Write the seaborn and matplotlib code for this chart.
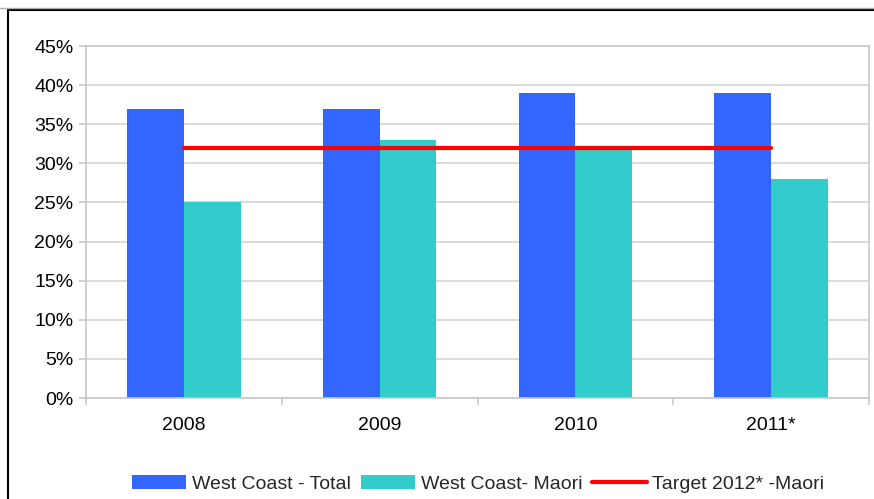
import pandas as pd
import numpy as np
import matplotlib
matplotlib.use("Agg")
import matplotlib.pyplot as plt
import seaborn as sns
from matplotlib.patches import Patch
from matplotlib.lines import Line2D
from matplotlib.ticker import FixedLocator

# data (percent)
years = ["2008", "2009", "2010", "2011*"]
total = [37, 37, 39, 39]
maori = [25, 33, 32, 28]
target = [32, 32, 32, 32]
series_names = ["West Coast - Total", "West Coast- Maori", "Target 2012* -Maori"]
y_ticks = [0, 5, 10, 15, 20, 25, 30, 35, 40, 45]

sns.set_theme(style="white")
plt.rcParams["font.family"] = ["Liberation Sans", "DejaVu Sans"]

df = pd.DataFrame({
    "Year": years * 2,
    "Value": total + maori,
    "Series": [series_names[0]] * len(years) + [series_names[1]] * len(years),
})

fig = plt.figure(figsize=(8.74, 4.99), dpi=100)
ax = fig.add_axes([0.0984, 0.2024, 0.8959, 0.7054])

colors = ["#3366FF", "#33CCCC"]
sns.barplot(data=df, x="Year", y="Value", hue="Series", palette=colors,
            width=0.58, gap=0, saturation=1, legend=False, linewidth=0, ax=ax)

ax.plot(np.arange(len(years)), target, color="#FF0000", lw=3,
        solid_capstyle="round", zorder=5)

ax.set_xlim(-0.5, len(years) - 0.5)
ax.set_ylim(0, 45)
ax.set_yticks(y_ticks)
ax.set_yticklabels([f"{t}%" for t in y_ticks])
ax.set_xlabel("")
ax.set_ylabel("")

ax.grid(axis="y", color="#d4d4d4", lw=1.2)
ax.set_axisbelow(True)
for s in ax.spines.values():
    s.set_color("#c8c8c8")
    s.set_linewidth(1.2)

ax.xaxis.set_minor_locator(FixedLocator(np.arange(-0.5, len(years), 1.0)))
ax.tick_params(axis="x", which="major", length=0, labelsize=14, pad=14, colors="black")
ax.tick_params(axis="x", which="minor", length=5, width=1.2, color="#c8c8c8", bottom=True)
ax.tick_params(axis="y", length=5, width=1.2, color="#c8c8c8", labelsize=14,
               labelcolor="black", left=True, pad=4)

handles = [
    Patch(facecolor=colors[0], edgecolor="none"),
    Patch(facecolor=colors[1], edgecolor="none"),
    Line2D([0], [0], color="#FF0000", lw=3),
]
fig.legend(handles, series_names, loc="center", bbox_to_anchor=(0.547, 0.03),
           ncol=3, frameon=False, fontsize=14, handlelength=2.8, handleheight=0.7,
           handletextpad=0.3, columnspacing=0.5)

# outer chart frame (cut off by the screenshot)
fig.add_artist(Line2D([0.009, 1.0], [0.98, 0.98], color="black", lw=1.5,
                      transform=fig.transFigure))
fig.add_artist(Line2D([0.009, 0.009], [0.0, 0.98], color="black", lw=1.5,
                      transform=fig.transFigure))
fig.add_artist(Line2D([0.0, 1.0], [0.984, 0.984], color="#b0b0b0", lw=1,
                      transform=fig.transFigure))

fig.savefig("out.png", dpi=100)
